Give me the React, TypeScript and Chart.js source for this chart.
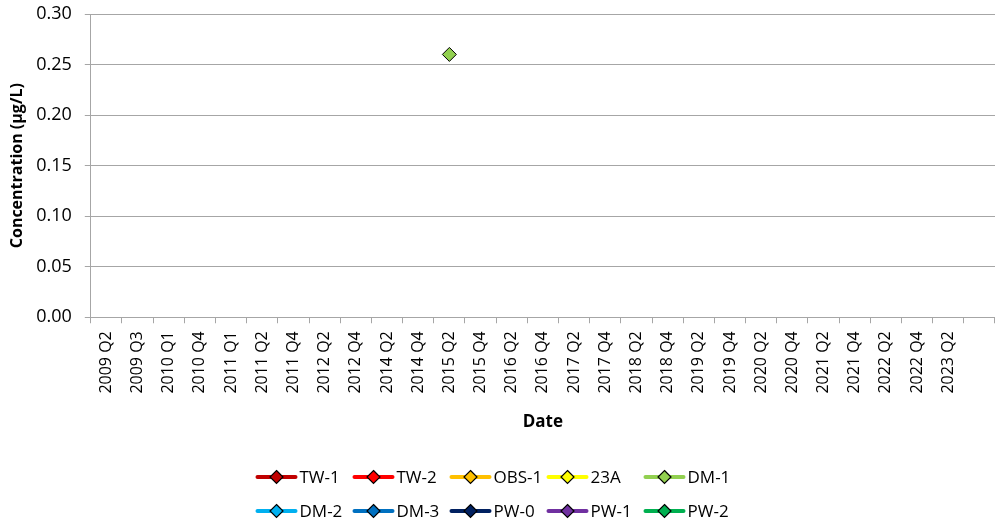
import React, { useEffect, useRef } from "react";
import { Chart, registerables } from "chart.js";

Chart.register(...registerables);

const N = null;

const dates = [
  "2009 Q2", "2009 Q3", "2010 Q1", "2010 Q4", "2011 Q1", "2011 Q2", "2011 Q4",
  "2012 Q2", "2012 Q4", "2014 Q2", "2014 Q4", "2015 Q2", "2015 Q4", "2016 Q2",
  "2016 Q4", "2017 Q2", "2017 Q4", "2018 Q2", "2018 Q4", "2019 Q2", "2019 Q4",
  "2020 Q2", "2020 Q4", "2021 Q2", "2021 Q4", "2022 Q2", "2022 Q4", "2023 Q2", "",
];

const yTicks = [0, 0.05, 0.1, 0.15, 0.2, 0.25, 0.3];

const seriesNames = ["TW-1", "TW-2", "OBS-1", "23A", "DM-1", "DM-2", "DM-3", "PW-0", "PW-1", "PW-2"];
const seriesColors = ["#C00000", "#FF0000", "#FFC000", "#FFFF00", "#92D050", "#00B0F0", "#0070C0", "#002060", "#7030A0", "#00B050"];

const tw1 = [N, N, N, N, N, N, N, N, N, N, N, N, N, N, N, N, N, N, N, N, N, N, N, N, N, N, N, N, N];
const tw2 = [N, N, N, N, N, N, N, N, N, N, N, N, N, N, N, N, N, N, N, N, N, N, N, N, N, N, N, N, N];
const obs1 = [N, N, N, N, N, N, N, N, N, N, N, N, N, N, N, N, N, N, N, N, N, N, N, N, N, N, N, N, N];
const w23a = [N, N, N, N, N, N, N, N, N, N, N, N, N, N, N, N, N, N, N, N, N, N, N, N, N, N, N, N, N];
const dm1 = [N, N, N, N, N, N, N, N, N, N, N, 0.26, N, N, N, N, N, N, N, N, N, N, N, N, N, N, N, N, N];
const dm2 = [N, N, N, N, N, N, N, N, N, N, N, N, N, N, N, N, N, N, N, N, N, N, N, N, N, N, N, N, N];
const dm3 = [N, N, N, N, N, N, N, N, N, N, N, N, N, N, N, N, N, N, N, N, N, N, N, N, N, N, N, N, N];
const pw0 = [N, N, N, N, N, N, N, N, N, N, N, N, N, N, N, N, N, N, N, N, N, N, N, N, N, N, N, N, N];
const pw1 = [N, N, N, N, N, N, N, N, N, N, N, N, N, N, N, N, N, N, N, N, N, N, N, N, N, N, N, N, N];
const pw2 = [N, N, N, N, N, N, N, N, N, N, N, N, N, N, N, N, N, N, N, N, N, N, N, N, N, N, N, N, N];

const seriesData = [tw1, tw2, obs1, w23a, dm1, dm2, dm3, pw0, pw1, pw2];

const FONT = "'Open Sans', 'Liberation Sans', sans-serif";
const GRID = "#A6A6A6";

const legendPlugin = {
  id: "excelLegend",
  afterDraw(chart: any) {
    const ctx = chart.ctx as CanvasRenderingContext2D;
    const W = chart.width;
    const H = chart.height;
    const colW = 97;
    const startX = W / 2 - 242;
    const rows = [H - 50, H - 16];
    seriesNames.forEach((name, i) => {
      const r = Math.floor(i / 5);
      const c = i % 5;
      const x = startX + c * colW;
      const y = rows[r];
      ctx.save();
      ctx.strokeStyle = seriesColors[i];
      ctx.lineWidth = 4;
      ctx.lineCap = "round";
      ctx.beginPath();
      ctx.moveTo(x + 2, y);
      ctx.lineTo(x + 40, y);
      ctx.stroke();
      const cx = x + 21;
      const s = 6.5;
      ctx.beginPath();
      ctx.moveTo(cx, y - s);
      ctx.lineTo(cx + s, y);
      ctx.lineTo(cx, y + s);
      ctx.lineTo(cx - s, y);
      ctx.closePath();
      ctx.fillStyle = seriesColors[i];
      ctx.fill();
      ctx.lineWidth = 1.2;
      ctx.strokeStyle = "#000";
      ctx.stroke();
      ctx.fillStyle = "#000";
      ctx.font = `17px ${FONT}`;
      ctx.textBaseline = "middle";
      ctx.textAlign = "left";
      ctx.fillText(name, x + 44, y + 1);
      ctx.restore();
    });
  },
};

export default function App() {
  const ref = useRef<HTMLCanvasElement | null>(null);
  useEffect(() => {
    if (!ref.current) return;
    const chart = new Chart(ref.current, {
      type: "line",
      data: {
        labels: dates,
        datasets: seriesNames.map((name, i) => ({
          label: name,
          data: seriesData[i],
          borderColor: seriesColors[i],
          backgroundColor: seriesColors[i],
          borderWidth: 3.5,
          pointStyle: "rectRot",
          pointRadius: 7,
          pointHoverRadius: 7,
          pointBackgroundColor: seriesColors[i],
          pointBorderColor: "#000",
          pointBorderWidth: 1,
          spanGaps: false,
        })),
      },
      options: {
        animation: false,
        responsive: false,
        maintainAspectRatio: false,
        layout: { autoPadding: false, padding: { top: 14, right: 0, bottom: 95, left: 8 } },
        plugins: {
          legend: { display: false },
          tooltip: { enabled: false },
        },
        scales: {
          x: {
            type: "category",
            offset: true,
            afterFit: (scale: any) => {
              scale.paddingLeft = 0;
              scale.paddingRight = 0;
            },
            grid: {
              offset: true,
              drawOnChartArea: false,
              drawTicks: true,
              tickLength: 6,
              color: GRID,
            },
            border: { color: GRID },
            ticks: {
              autoSkip: false,
              maxRotation: 90,
              minRotation: 90,
              padding: 8,
              color: "#000",
              font: { family: FONT, size: 16 },
            },
            title: {
              display: true,
              text: "Date",
              color: "#000",
              font: { family: FONT, size: 17, weight: "bold" },
              padding: { top: 10, bottom: 0 },
            },
          },
          y: {
            min: 0,
            max: 0.3,
            afterBuildTicks: (axis: any) => {
              axis.ticks = yTicks.map((v) => ({ value: v }));
            },
            afterFit: (scale: any) => {
              scale.paddingTop = 0;
              scale.paddingBottom = 0;
            },
            grid: { color: GRID, tickLength: 6, lineWidth: 1 },
            border: { color: GRID },
            ticks: {
              padding: 13,
              color: "#000",
              font: { family: FONT, size: 18 },
              callback: (v: any) => Number(v).toFixed(2),
            },
            title: {
              display: true,
              text: "Concentration (µg/L)",
              color: "#000",
              font: { family: FONT, size: 16, weight: "bold" },
              padding: { top: 0, bottom: -4 },
            },
          },
        },
      },
      plugins: [legendPlugin],
    });
    return () => chart.destroy();
  }, []);
  return (
    <div style={{ position: "fixed", left: 0, top: 0, width: 995, height: 527, background: "#fff" }}>
      <canvas ref={ref} width={995} height={527} style={{ width: 995, height: 527, display: "block" }} />
    </div>
  );
}
